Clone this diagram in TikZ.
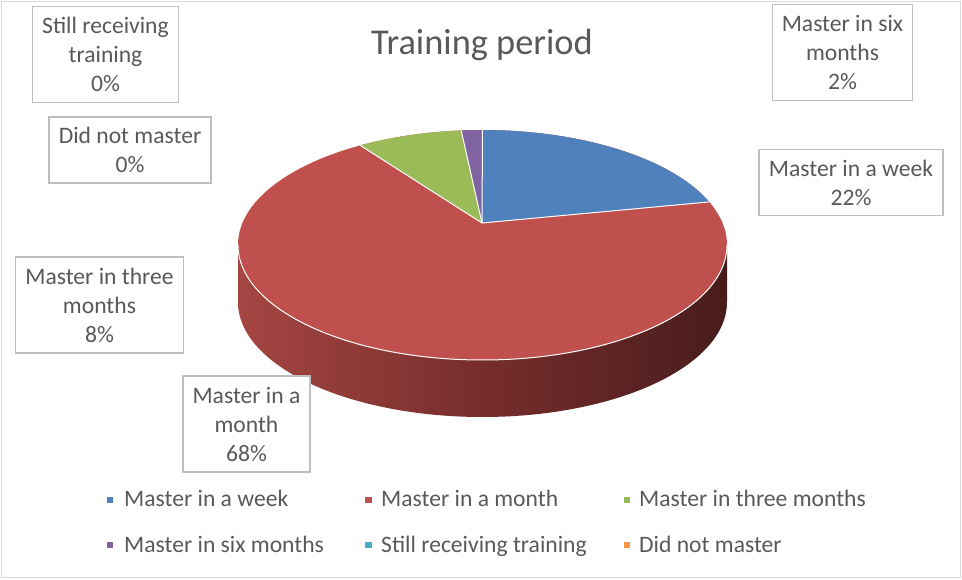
\documentclass[tikz,border=0pt]{standalone}
\usepackage{fontspec}
\setmainfont{Carlito}
\usetikzlibrary{calc}
\definecolor{pblue}{RGB}{79,129,189}
\definecolor{pred}{RGB}{192,80,77}
\definecolor{pgreen}{RGB}{155,187,89}
\definecolor{ppurple}{RGB}{128,100,162}
\definecolor{paqua}{RGB}{75,172,198}
\definecolor{porange}{RGB}{247,150,70}
\definecolor{sideL}{RGB}{165,70,66}
\definecolor{sideM}{RGB}{118,45,44}
\definecolor{sideR}{RGB}{72,28,28}
\definecolor{txtgray}{RGB}{89,89,89}
\definecolor{lblgray}{RGB}{191,191,191}
\definecolor{bordergray}{RGB}{217,217,217}
\begin{document}
\begin{tikzpicture}[x=1pt,y=1pt,
  lbl/.style={draw=lblgray, line width=1.3pt, fill=white, align=center,
    font=\fontsize{23.6}{29}\selectfont, text=txtgray, inner sep=0pt},
  legtext/.style={anchor=base west, font=\fontsize{23.6}{29}\selectfont, text=txtgray, inner sep=0pt},
  legsq/.style={minimum size=6.5pt, inner sep=0pt},
  sliceedge/.style={white, line width=1pt},
  ell/.style={x radius=244.5pt, y radius=115pt}]
\useasboundingbox (0,0) rectangle (962,579);
\draw[bordergray, line width=1pt] (1.5,1.5) rectangle (960.5,577.5);
\node[font=\fontsize{36.4}{40}\selectfont, text=txtgray] (title) at (482,534) {Training period};
% pie geometry
\coordinate (C) at (482.5,334);
\coordinate (A) at (482,356);
\coordinate (L) at (238,334);
\coordinate (R) at (727,334);
\coordinate (Rb) at (727,277);
\coordinate (P22) at ($(C)+(22:244.5pt and 115pt)$);
\coordinate (P90) at ($(C)+(90:244.5pt and 115pt)$);
\coordinate (P95) at ($(C)+(95:244.5pt and 115pt)$);
\coordinate (P120) at ($(C)+(120:244.5pt and 115pt)$);
% side
\shade[left color=sideL, right color=sideR, middle color=sideM]
  (L) arc[start angle=180, end angle=360, ell] -- (Rb)
  arc[start angle=0, end angle=-180, ell] -- cycle;
% top face
\fill[pred] (C) ellipse[ell];
\fill[pblue] (A) -- (P22) arc[start angle=22, end angle=90, ell] -- cycle;
\fill[ppurple] (A) -- (P90) arc[start angle=90, end angle=95, ell] -- cycle;
\fill[pgreen] (A) -- (P95) arc[start angle=95, end angle=120, ell] -- cycle;
\draw[sliceedge] (L) arc[start angle=180, end angle=360, ell];
\draw[sliceedge] (A) -- (P22);
\draw[sliceedge] (A) -- (P90);
\draw[sliceedge] (A) -- (P95);
\draw[sliceedge] (A) -- (P120);
% data labels
\node[lbl, minimum width=146pt, minimum height=96pt] (l1) at (105.5,524.5) {Still receiving\\training\\0\%};
\node[lbl, minimum width=162pt, minimum height=66pt] (l2) at (130,429) {Did not master\\0\%};
\node[lbl, minimum width=140pt, minimum height=96pt] (l3) at (842.5,526.5) {Master in six\\months\\2\%};
\node[lbl, minimum width=184pt, minimum height=66pt] (l4) at (851,396.5) {Master in a week\\22\%};
\node[lbl, minimum width=168pt, minimum height=96pt] (l5) at (99.5,274) {Master in three\\months\\8\%};
\node[lbl, minimum width=127pt, minimum height=96pt] (l6) at (246.5,155) {Master in a\\month\\68\%};
% legend
\node[legsq, fill=pblue] (s1) at (110,79) {};
\node[legtext] (t1) at (124,73) {Master in a week};
\node[legsq, fill=pred] (s2) at (368.5,79) {};
\node[legtext] (t2) at (381,73) {Master in a month};
\node[legsq, fill=pgreen] (s3) at (627,79) {};
\node[legtext] (t3) at (639,73) {Master in three months};
\node[legsq, fill=ppurple] (s4) at (110,34) {};
\node[legtext] (t4) at (124,27) {Master in six months};
\node[legsq, fill=paqua] (s5) at (368.5,34) {};
\node[legtext] (t5) at (381,27) {Still receiving training};
\node[legsq, fill=porange] (s6) at (627,34) {};
\node[legtext] (t6) at (639,27) {Did not master};
\end{tikzpicture}
\end{document}
